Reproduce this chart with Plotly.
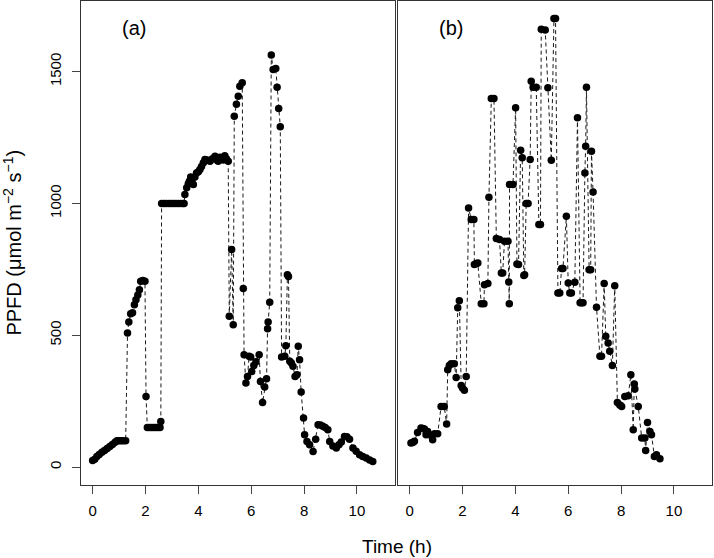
import plotly.graph_objects as go

# Panel (a) time (h) and PPFD
time_a = [0.00, 0.08, 0.16, 0.25, 0.35, 0.45, 0.55, 0.65, 0.75, 0.85, 0.92, 1.00, 1.08, 1.16, 1.25,
          1.32, 1.37, 1.44, 1.51, 1.58, 1.64, 1.71, 1.77, 1.82, 1.90, 1.98,
          2.02, 2.07, 2.15, 2.23, 2.31, 2.39, 2.47, 2.55, 2.58,
          2.61, 2.70, 2.79, 2.88, 2.97, 3.06, 3.15, 3.24, 3.33, 3.42, 3.46,
          3.49, 3.56, 3.62, 3.66, 3.71, 3.76, 3.81, 3.87, 3.93, 4.00, 4.06, 4.12, 4.19, 4.25,
          4.33, 4.44, 4.53, 4.63, 4.70, 4.75, 4.82, 4.88, 4.94, 5.00, 5.06, 5.13,
          5.17, 5.26, 5.32, 5.36, 5.44, 5.51, 5.57, 5.66,
          5.70, 5.73, 5.80, 5.86, 5.92, 5.98, 6.02, 6.10, 6.18, 6.30, 6.35, 6.43, 6.51, 6.58, 6.62, 6.64, 6.70,
          6.76, 6.83, 6.93, 6.98, 7.04, 7.10,
          7.15, 7.27, 7.31, 7.37, 7.41, 7.46, 7.52, 7.58, 7.66, 7.73, 7.78, 7.83, 7.89, 7.98, 8.02, 8.11, 8.21, 8.34,
          8.44, 8.53, 8.62, 8.71, 8.80, 8.90, 8.97, 9.09, 9.22, 9.32, 9.41, 9.53, 9.62, 9.72, 9.85, 9.97, 10.10,
          10.22, 10.35, 10.48, 10.60]
ppfd_a = [25, 30, 40, 48, 56, 63, 70, 78, 86, 94, 100, 100, 100, 100, 100,
          509, 550, 582, 585, 616, 635, 653, 673, 705, 708, 705,
          268, 150, 150, 150, 150, 150, 150, 150, 173,
          1000, 1000, 1000, 1000, 1000, 1000, 1000, 1000, 1000, 1000, 1000,
          1034, 1060, 1075, 1084, 1100, 1090, 1072, 1100, 1116, 1120, 1129, 1140, 1154, 1167,
          1165, 1160, 1170, 1179, 1165, 1160, 1175, 1172, 1165, 1181, 1170, 1160,
          572, 825, 540, 1331, 1376, 1407, 1445, 1458,
          677, 426, 319, 344, 420, 418, 363, 385, 400, 426, 325, 245, 304, 335, 525, 550, 625,
          1563, 1508, 1512, 1441, 1360, 1291,
          418, 420, 460, 730, 723, 401, 395, 382, 344, 350, 458, 407, 285, 186, 123, 97, 85, 59,
          106, 161, 160, 155, 150, 142, 97, 80, 72, 85, 95, 116, 115, 106, 72, 60, 47,
          40, 34, 27, 21]

# Panel (b) time (h) and PPFD
time_b = [0.05, 0.12, 0.18, 0.30, 0.43, 0.50, 0.56, 0.62, 0.68, 0.75, 0.87, 0.94, 1.06, 1.19, 1.31,
          1.40, 1.44, 1.50, 1.57, 1.69, 1.76, 1.82, 1.88, 1.95, 2.00, 2.07, 2.14,
          2.23, 2.33, 2.43, 2.45, 2.52, 2.58, 2.71, 2.81, 2.83, 2.96, 3.00, 3.09, 3.19,
          3.28, 3.40, 3.47, 3.52, 3.59, 3.72, 3.75, 3.77, 3.78, 3.91, 4.01, 4.06, 4.12,
          4.20, 4.26, 4.32, 4.35, 4.41, 4.48, 4.56, 4.60, 4.67, 4.79, 4.89, 4.95,
          4.98, 5.13, 5.23, 5.36, 5.46, 5.52, 5.61, 5.68, 5.75, 5.80, 5.93, 6.00, 6.06, 6.12,
          6.25, 6.35, 6.45, 6.50, 6.56, 6.63, 6.66, 6.69, 6.79, 6.85, 6.88, 6.94,
          7.07, 7.20, 7.26, 7.36, 7.42, 7.51, 7.57, 7.67, 7.76, 7.86, 7.95, 8.02,
          8.14, 8.27, 8.37, 8.46, 8.50, 8.52, 8.65, 8.78, 8.90, 8.93, 9.00, 9.09, 9.15,
          9.26, 9.34, 9.47]
ppfd_b = [91, 93, 98, 131, 148, 146, 144, 123, 135, 123, 104, 126, 126, 230, 230,
          163, 369, 385, 392, 392, 340, 604, 631, 309, 300, 291, 344,
          983, 939, 939, 768, 772, 774, 620, 620, 692, 696, 1024, 1398, 1398,
          867, 863, 736, 736, 857, 857, 702, 620, 1072, 1072, 1363, 770, 768,
          1202, 1173, 727, 730, 1000, 1000, 1167, 1464, 1441, 1441, 920, 920,
          1661, 1658, 1439, 1164, 1702, 1702, 660, 660, 753, 753, 951, 698, 660, 660,
          701, 1325, 623, 623, 623, 1116, 1217, 1441, 749, 749, 1198, 1043,
          606, 420, 420, 696, 496, 471, 439, 385, 688, 245, 235, 230,
          268, 271, 350, 142, 315, 296, 230, 110, 110, 63, 169, 135, 123,
          40, 47, 32]

x_ticks = [0, 2, 4, 6, 8, 10]
y_ticks = [0, 500, 1000, 1500]

FONT = "Liberation Sans, Arial, Helvetica, sans-serif"
INK = "#1a1a1a"

fig = go.Figure()
common = dict(mode="lines+markers",
              line=dict(color=INK, width=1, dash="4px,3px"),
              marker=dict(color="black", size=7.5, line=dict(width=0)),
              showlegend=False, hoverinfo="x+y")
fig.add_trace(go.Scatter(x=time_a, y=ppfd_a, xaxis="x", yaxis="y", **common))
fig.add_trace(go.Scatter(x=time_b, y=ppfd_b, xaxis="x2", yaxis="y2", **common))

xax = dict(range=[-0.44, 11.44], tickvals=x_ticks, ticks="outside", ticklen=8,
           tickcolor="#444", showline=True, mirror=True, linecolor="#333", linewidth=1,
           showgrid=False, zeroline=False, ticklabelstandoff=4,
           tickfont=dict(family=FONT, size=15, color="black"))
yrange = [-68, 1768]

fig.update_layout(
    width=714, height=558,
    margin=dict(l=81, r=2, t=1, b=73),
    paper_bgcolor="white", plot_bgcolor="white",
    font=dict(family=FONT, color="black"),
    xaxis=dict(domain=[0, 0.4976], anchor="y", **xax),
    xaxis2=dict(domain=[0.5024, 1], anchor="y2", **xax),
    yaxis=dict(range=yrange, tickvals=y_ticks, ticks="outside", ticklen=8, tickcolor="#444",
               tickangle=-90, showline=True, mirror=True, linecolor="#333", linewidth=1,
               showgrid=False, zeroline=False, anchor="x", ticklabelstandoff=5,
               tickfont=dict(family=FONT, size=15, color="black")),
    yaxis2=dict(range=yrange, showticklabels=False, ticks="", showline=True, mirror=True,
                linecolor="#333", linewidth=1, showgrid=False, zeroline=False, anchor="x2"),
    annotations=[
        dict(text="(a)", xref="x", yref="y", x=1.57, y=1664, showarrow=False,
             font=dict(family=FONT, size=20, color="black")),
        dict(text="(b)", xref="x2", yref="y2", x=1.57, y=1664, showarrow=False,
             font=dict(family=FONT, size=20, color="black")),
        dict(text="Time (h)", xref="paper", yref="paper", x=0.5008, y=-0.128, yanchor="middle",
             showarrow=False, font=dict(family=FONT, size=19, color="black")),
        dict(text="PPFD (μmol m<sup>−2</sup> s<sup>−1</sup>)", xref="paper", yref="paper",
             x=-0.11, xanchor="center", y=0.5, yanchor="middle", textangle=-90, showarrow=False,
             font=dict(family=FONT, size=20, color="black")),
    ],
)

fig.write_html("out.html", config={"displayModeBar": False},
               post_script="document.body.style.margin='0';")
